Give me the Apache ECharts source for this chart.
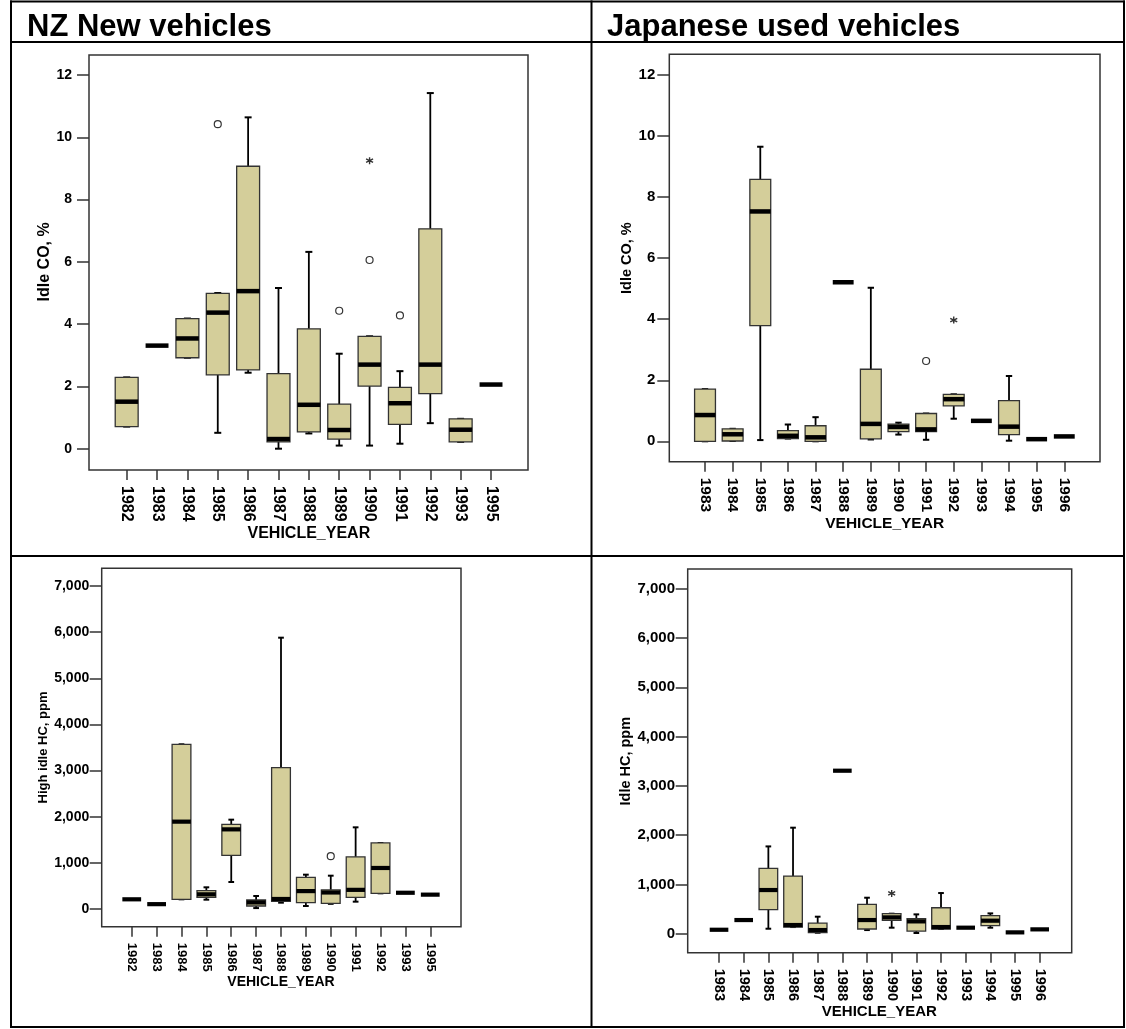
<!DOCTYPE html>
<html><head><meta charset="utf-8">
<script src="https://cdn.jsdelivr.net/npm/echarts@6/dist/echarts.min.js"></script>
<style>html,body{margin:0;padding:0;background:#fff}#c{width:1126px;height:1029px}</style>
</head><body><div id="c"></div><script>
// ---------------- DATA ----------------
// stats per category: [min, q1, median, q3, max]; single value = [v]
const nzCoYears = ['1982','1983','1984','1985','1986','1987','1988','1989','1990','1991','1992','1993','1995'];
const nzCoStats = [
  [0.71,0.71,1.51,2.29,2.29],[3.31],[2.92,2.92,3.54,4.18,4.18],[0.51,2.37,4.37,4.99,5.0],
  [2.44,2.53,5.06,9.07,10.64],[0.0,0.22,0.31,2.41,5.16],[0.49,0.54,1.41,3.85,6.32],
  [0.10,0.31,0.60,1.43,3.05],[0.10,2.01,2.70,3.61,3.61],[0.16,0.78,1.46,1.97,2.49],
  [0.82,1.77,2.70,7.06,11.42],[0.22,0.22,0.61,0.96,0.96],[2.06]
];
const nzCoOutliers = [['1985',10.42],['1989',4.43],['1990',6.06],['1991',4.28]];
const nzCoExtremes = [['1990',9.25]];

const jpCoYears = ['1983','1984','1985','1986','1987','1988','1989','1990','1991','1992','1993','1994','1995','1996'];
const jpCoStats = [
  [0.0,0.0,0.86,1.71,1.71],[0.01,0.01,0.23,0.41,0.41],[0.04,3.79,7.53,8.58,9.65],
  [0.09,0.09,0.18,0.35,0.55],[0.0,0.0,0.13,0.51,0.79],[5.21],[0.06,0.08,0.57,2.36,5.03],
  [0.22,0.32,0.47,0.56,0.61],[0.05,0.32,0.39,0.91,0.91],[0.74,1.16,1.38,1.54,1.54],
  [0.67],[0.02,0.22,0.48,1.33,2.14],[0.07],[0.16]
];
const jpCoOutliers = [['1991',2.63]];
const jpCoExtremes = [['1992',3.97]];

const nzHcYears = ['1982','1983','1984','1985','1986','1987','1988','1989','1990','1991','1992','1993','1995'];
const nzHcStats = [
  [210],[105],[210,210,1893,3569,3569],[202,253,318,397,470],[585,1160,1726,1835,1936],
  [20,65,142,195,282],[137,165,217,3063,5880],[65,137,388,686,744],[112,123,358,415,722],
  [159,253,415,1130,1770],[340,340,889,1431,1431],[352],[311]
];
const nzHcOutliers = [['1990',1145]];
const nzHcExtremes = [];

const jpHcYears = ['1983','1984','1985','1986','1987','1988','1989','1990','1991','1992','1993','1994','1995','1996'];
const jpHcStats = [
  [80],[277],[101,487,886,1325,1771],[135,135,176,1170,2151],[20,20,74,216,345],[3307],
  [74,95,277,595,730],[122,270,331,406,406],[14,54,250,304,392],[95,95,135,527,825],
  [122],[122,162,264,365,412],[27],[88]
];
const jpHcOutliers = [];
const jpHcExtremes = [['1990',818]];

const coTicks = {max: 12, interval: 2};
const hcTicks = {max: 7000, interval: 1000};

// ---------------- STYLE / LAYOUT ----------------
const FF = 'Arial, "Liberation Sans", sans-serif';
const BOX_FILL = '#D4CE9A';
const ASTERISK = 'path://M5,0 L5,10 M0.67,2.5 L9.33,7.5 M0.67,7.5 L9.33,2.5';

const panels = [
  {years: nzCoYears, stats: nzCoStats, outliers: nzCoOutliers, extremes: nzCoExtremes, ticks: coTicks, fmt: v => String(v),
   yName: 'Idle CO, %', frame: {l: 89, t: 55, r: 528, b: 470}, data: {l: 111.5, t: 75, r: 506.2, b: 448.7},
   yLabel: 14, xLabel: 16, yNameSize: 16, xNameSize: 16, yNameGap: 35, xNameGap: 51, yMargin: 17, medW: 4.5},
  {years: jpCoYears, stats: jpCoStats, outliers: jpCoOutliers, extremes: jpCoExtremes, ticks: coTicks, fmt: v => String(v),
   yName: 'Idle CO, %', frame: {l: 669.3, t: 54.3, r: 1100, b: 461.7}, data: {l: 691.2, t: 75, r: 1078.1, b: 441.3},
   yLabel: 15, xLabel: 15.5, yNameSize: 14.5, xNameSize: 15.5, yNameGap: 35, xNameGap: 50, yMargin: 14, medW: 4.5},
  {years: nzHcYears, stats: nzHcStats, outliers: nzHcOutliers, extremes: nzHcExtremes, ticks: hcTicks, fmt: v => v.toLocaleString('en-US'),
   yName: 'High idle HC, ppm', frame: {l: 101.7, t: 568.3, r: 461, b: 926.7}, data: {l: 119.3, t: 586, r: 442.7, b: 909},
   yLabel: 14, xLabel: 13, yNameSize: 13, xNameSize: 14, yNameGap: 50, xNameGap: 48, yMargin: 12.5, medW: 4.2},
  {years: jpHcYears, stats: jpHcStats, outliers: jpHcOutliers, extremes: jpHcExtremes, ticks: hcTicks, fmt: v => v.toLocaleString('en-US'),
   yName: 'Idle HC, ppm', frame: {l: 687.7, t: 569, r: 1071.7, b: 952.7}, data: {l: 706.7, t: 588.7, r: 1052, b: 933.7},
   yLabel: 15, xLabel: 14.5, yNameSize: 14.5, xNameSize: 15, yNameGap: 52, xNameGap: 47, yMargin: 12.7, medW: 4.2}
];

function makeRender(medW) {
  return function (params, api) {
    const cat = api.value(0);
    const v = [1, 2, 3, 4, 5].map(k => api.value(k));
    const band = api.size([1, 0])[0];
    const bw = band * 0.755, cw = band * 0.23;
    const p = v.map(val => api.coord([cat, val]));
    const cx = p[2][0];
    const L = (x1, y1, x2, y2, w) => ({type: 'line', shape: {x1, y1, x2, y2}, style: {stroke: '#000', lineWidth: w}});
    const ch = [];
    if (v[0] === v[4]) {
      ch.push(L(cx - bw / 2, p[2][1], cx + bw / 2, p[2][1], medW));
    } else {
      ch.push(L(cx, p[4][1], cx, p[3][1], 1.8));
      ch.push(L(cx, p[1][1], cx, p[0][1], 1.8));
      ch.push(L(cx - cw / 2, p[4][1], cx + cw / 2, p[4][1], 2));
      ch.push(L(cx - cw / 2, p[0][1], cx + cw / 2, p[0][1], 2));
      ch.push({type: 'rect', shape: {x: cx - bw / 2, y: p[3][1], width: bw, height: p[1][1] - p[3][1]},
               style: {fill: BOX_FILL, stroke: '#333', lineWidth: 1.3}});
      ch.push(L(cx - bw / 2, p[2][1], cx + bw / 2, p[2][1], medW));
    }
    return {type: 'group', children: ch};
  };
}

const grid = [], xAxis = [], yAxis = [], series = [];
panels.forEach((p, i) => {
  const fi = 3 * i, di = 3 * i + 1, li = 3 * i + 2;
  // frame grid (plot box border)
  grid.push({left: p.frame.l, top: p.frame.t, width: p.frame.r - p.frame.l, height: p.frame.b - p.frame.t,
             show: true, borderColor: '#333', borderWidth: 1.5, backgroundColor: 'transparent', containLabel: false, outerBoundsMode: 'none'});
  // data grid (value scale 0..max)
  grid.push({left: p.data.l, top: p.data.t, width: p.data.r - p.data.l, height: p.data.b - p.data.t,
             show: false, containLabel: false, outerBoundsMode: 'none'});
  // label grid (category axis drawn on the frame's bottom edge)
  grid.push({left: p.data.l, top: p.frame.t, width: p.data.r - p.data.l, height: p.frame.b - p.frame.t,
             show: false, containLabel: false, outerBoundsMode: 'none'});

  xAxis.push({gridIndex: fi, type: 'value', show: false});
  yAxis.push({gridIndex: fi, type: 'value', show: false});

  xAxis.push({gridIndex: di, type: 'category', data: p.years, show: false});
  yAxis.push({
    gridIndex: di, type: 'value', min: 0, max: p.ticks.max, interval: p.ticks.interval, position: 'left',
    offset: p.data.l - p.frame.l,
    axisLine: {show: false}, splitLine: {show: false},
    axisTick: {show: true, length: 12, lineStyle: {color: '#333', width: 1.5}},
    axisLabel: {margin: p.yMargin, fontFamily: FF, fontWeight: 'bold', fontSize: p.yLabel, color: '#000', formatter: p.fmt},
    name: p.yName, nameLocation: 'middle', nameGap: p.yNameGap,
    nameTextStyle: {fontFamily: FF, fontWeight: 'bold', fontSize: p.yNameSize, color: '#000'}
  });

  xAxis.push({
    gridIndex: li, type: 'category', data: p.years, position: 'bottom',
    axisLine: {show: false}, splitLine: {show: false},
    axisTick: {show: true, alignWithLabel: true, length: 10, lineStyle: {color: '#333', width: 1.5}},
    axisLabel: {rotate: -90, interval: 0, margin: 16, fontFamily: FF, fontWeight: 'bold', fontSize: p.xLabel, color: '#000'},
    name: 'VEHICLE_YEAR', nameLocation: 'middle', nameGap: p.xNameGap,
    nameTextStyle: {fontFamily: FF, fontWeight: 'bold', fontSize: p.xNameSize, color: '#000'}
  });
  yAxis.push({gridIndex: li, type: 'value', show: false});

  const data = p.years.map((y, k) => {
    const s = p.stats[k].length === 1 ? [0, 0, 0, 0, 0].map(() => p.stats[k][0]) : p.stats[k];
    return [y].concat(s);
  });
  series.push({type: 'custom', xAxisIndex: di, yAxisIndex: di, renderItem: makeRender(p.medW),
               encode: {x: 0, y: [1, 2, 3, 4, 5]}, data: data, silent: true});
  series.push({type: 'scatter', xAxisIndex: di, yAxisIndex: di, data: p.outliers, symbol: 'circle', symbolSize: 7,
               itemStyle: {color: 'rgba(0,0,0,0)', borderColor: '#000', borderWidth: 1.2}, silent: true});
  series.push({type: 'scatter', xAxisIndex: di, yAxisIndex: di, data: p.extremes, symbol: ASTERISK, symbolSize: 7,
               itemStyle: {color: 'rgba(0,0,0,0)', borderColor: '#000', borderWidth: 1.4}, silent: true});
});

const lineStyle = {stroke: '#000', lineWidth: 2};
const graphic = [
  {type: 'line', shape: {x1: 10, y1: 1.5, x2: 1125, y2: 1.5}, style: lineStyle},
  {type: 'line', shape: {x1: 10, y1: 42, x2: 1125, y2: 42}, style: lineStyle},
  {type: 'line', shape: {x1: 10, y1: 556, x2: 1125, y2: 556}, style: lineStyle},
  {type: 'line', shape: {x1: 10, y1: 1027, x2: 1125, y2: 1027}, style: lineStyle},
  {type: 'line', shape: {x1: 11, y1: 0.5, x2: 11, y2: 1028}, style: lineStyle},
  {type: 'line', shape: {x1: 591.5, y1: 0.5, x2: 591.5, y2: 1028}, style: lineStyle},
  {type: 'line', shape: {x1: 1124, y1: 0.5, x2: 1124, y2: 1028}, style: lineStyle},
  {type: 'text', x: 27, y: 27, style: {text: 'NZ New vehicles', font: 'bold 31px ' + FF, fill: '#000', verticalAlign: 'middle'}},
  {type: 'text', x: 607, y: 27, style: {text: 'Japanese used vehicles', font: 'bold 31px ' + FF, fill: '#000', verticalAlign: 'middle'}}
];

const chart = echarts.init(document.getElementById('c'), null, {renderer: 'canvas'});
chart.setOption({animation: false, backgroundColor: '#fff', grid, xAxis, yAxis, series, graphic});
</script></body></html>
